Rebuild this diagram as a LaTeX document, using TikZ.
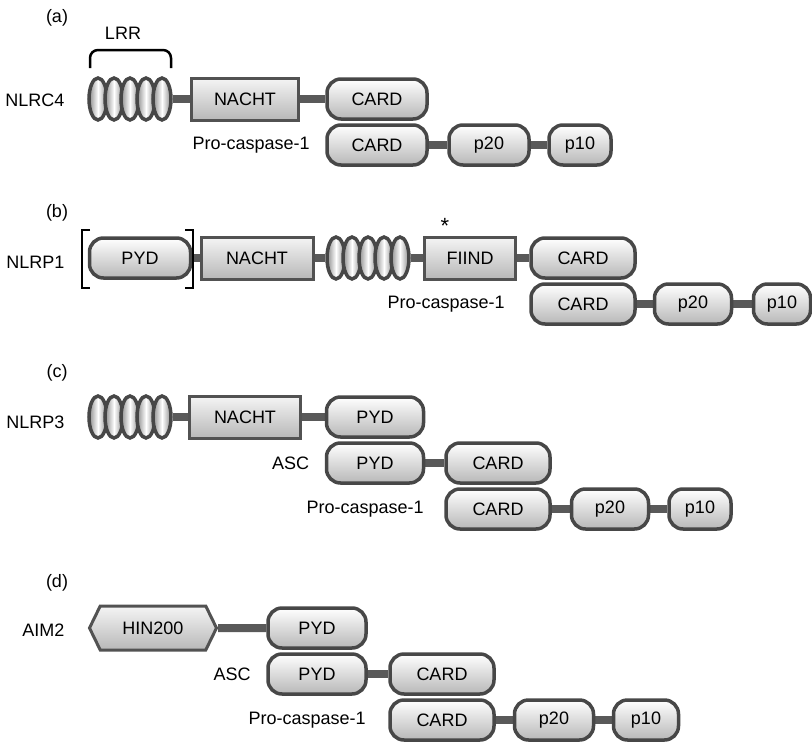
\documentclass[tikz,border=0pt]{standalone}
\usepackage{fontspec}
\setmainfont{Liberation Sans}
\usetikzlibrary{positioning, shapes, backgrounds}

\begin{document}
\begin{tikzpicture}[x=1pt, y=-1pt,
      font=\fontsize{18}{20}\selectfont,
      dom/.style={rectangle, rounded corners=14pt, draw=black!72, line width=3.5pt, top color=white, bottom color=black!28, minimum height=40pt, inner sep=0pt},
      bar/.style={rectangle, draw=black!68, line width=3pt, top color=black!4, bottom color=black!28, minimum height=42pt, inner sep=0pt},
      lrr/.style={ellipse, draw=black!72, line width=3.5pt, left color=black!45, right color=black!45, middle color=white, minimum width=18pt, minimum height=42pt, inner sep=0pt},
      hin/.style={signal, signal to=west and east, signal pointer angle=128, draw=black!68, line width=3pt, top color=black!4, bottom color=black!28, minimum height=44pt, inner sep=0pt},
      link/.style={line width=8pt, draw=black!65},
      brk/.style={line width=2.5pt, draw=black}]
    \useasboundingbox (0,0) rectangle (812,742);
    % (a) NLRC4
    \node (lbl-a) at (57,18) {(a)};
    \node (a-name) [anchor=east] at (68,100) {NLRC4};
    \node (a-lrrtxt) at (123,33) {LRR};
    \draw[brk, rounded corners=8pt] (90,68) -- (90,50) -- (171,50) -- (171,68);
    \node[lrr] (a-l1) at (98,99) {};
    \node[lrr] (a-l2) at (114,99) {};
    \node[lrr] (a-l3) at (130,99) {};
    \node[lrr] (a-l4) at (146,99) {};
    \node[lrr] (a-l5) at (162,99) {};
    \node[bar, minimum width=107pt] (a-nacht) at (245,99) {NACHT};
    \node[dom, minimum width=100pt] (a-card1) at (377,99) {CARD};
    \node[dom, minimum width=100pt] (a-card2) at (377,145) {CARD};
    \node[dom, minimum width=80pt] (a-p20) at (489,145) {p20};
    \node[dom, minimum width=62pt] (a-p10) at (580,145) {p10};
    \node (a-pro) [left=12pt of a-card2] {Pro-caspase-1};
    % (b) NLRP1
    \node (lbl-b) at (57,213) {(b)};
    \node (b-name) [anchor=east] at (68,262) {NLRP1};
    \node[dom, minimum width=101pt] (b-pyd) at (140,258) {PYD};
    \draw[brk] (90,230) -- (82,230) -- (82,288) -- (90,288);
    \draw[brk] (185,230) -- (193,230) -- (193,288) -- (185,288);
    \node[bar, minimum width=112pt] (b-nacht) at (257,258) {NACHT};
    \node[lrr] (b-l1) at (336,258) {};
    \node[lrr] (b-l2) at (352,258) {};
    \node[lrr] (b-l3) at (368,258) {};
    \node[lrr] (b-l4) at (384,258) {};
    \node[lrr] (b-l5) at (400,258) {};
    \node[bar, minimum width=91pt] (b-fiind) at (470,258) {FIIND};
    \node[font=\fontsize{22}{22}\selectfont] (b-star) at (445,226) {*};
    \node[dom, minimum width=104pt] (b-card1) at (583,258) {CARD};
    \node[dom, minimum width=104pt] (b-card2) at (583,304) {CARD};
    \node[dom, minimum width=77pt] (b-p20) at (693,304) {p20};
    \node[dom, minimum width=57pt] (b-p10) at (782,304) {p10};
    \node (b-pro) [left=21pt of b-card2] {Pro-caspase-1};
    % (c) NLRP3
    \node (lbl-c) at (57,373) {(c)};
    \node (c-name) [anchor=east] at (68,422) {NLRP3};
    \node[lrr] (c-l1) at (98,417) {};
    \node[lrr] (c-l2) at (114,417) {};
    \node[lrr] (c-l3) at (130,417) {};
    \node[lrr] (c-l4) at (146,417) {};
    \node[lrr] (c-l5) at (162,417) {};
    \node[bar, minimum width=111pt] (c-nacht) at (245,417) {NACHT};
    \node[dom, minimum width=97pt] (c-pyd1) at (375,417) {PYD};
    \node[dom, minimum width=97pt] (c-pyd2) at (375,463) {PYD};
    \node (c-asc) [left=12pt of c-pyd2] {ASC};
    \node[dom, minimum width=104pt] (c-card1) at (498,463) {CARD};
    \node[dom, minimum width=104pt] (c-card2) at (498,509) {CARD};
    \node[dom, minimum width=77pt] (c-p20) at (610,509) {p20};
    \node[dom, minimum width=62pt] (c-p10) at (700,509) {p10};
    \node (c-pro) [left=17pt of c-card2] {Pro-caspase-1};
    % (d) AIM2
    \node (lbl-d) at (57,583) {(d)};
    \node (d-name) [anchor=east] at (68,630) {AIM2};
    \node[hin, minimum width=127pt] (d-hin) at (153,628) {HIN200};
    \node[dom, minimum width=98pt] (d-pyd1) at (317,628) {PYD};
    \node[dom, minimum width=98pt] (d-pyd2) at (317,674) {PYD};
    \node (d-asc) [left=12pt of d-pyd2] {ASC};
    \node[dom, minimum width=104pt] (d-card1) at (442,674) {CARD};
    \node[dom, minimum width=104pt] (d-card2) at (442,720) {CARD};
    \node[dom, minimum width=79pt] (d-p20) at (554,720) {p20};
    \node[dom, minimum width=65pt] (d-p10) at (646,720) {p10};
    \node (d-pro) [left=19pt of d-card2] {Pro-caspase-1};
    % linkers, behind the domains:
    \begin{scope}[on background layer]
      \draw[link] (a-l5) -- (a-nacht);
      \draw[link] (a-nacht) -- (a-card1);
      \draw[link] (a-card2) -- (a-p20);
      \draw[link] (a-p20) -- (a-p10);
      \draw[link] (b-pyd) -- (b-nacht);
      \draw[link] (b-nacht) -- (b-l1);
      \draw[link] (b-l5) -- (b-fiind);
      \draw[link] (b-fiind) -- (b-card1);
      \draw[link] (b-card2) -- (b-p20);
      \draw[link] (b-p20) -- (b-p10);
      \draw[link] (c-l5) -- (c-nacht);
      \draw[link] (c-nacht) -- (c-pyd1);
      \draw[link] (c-pyd2) -- (c-card1);
      \draw[link] (c-card2) -- (c-p20);
      \draw[link] (c-p20) -- (c-p10);
      \draw[link] (d-hin) -- (d-pyd1);
      \draw[link] (d-pyd2) -- (d-card1);
      \draw[link] (d-card2) -- (d-p20);
      \draw[link] (d-p20) -- (d-p10);
    \end{scope}
\end{tikzpicture}
\end{document}
